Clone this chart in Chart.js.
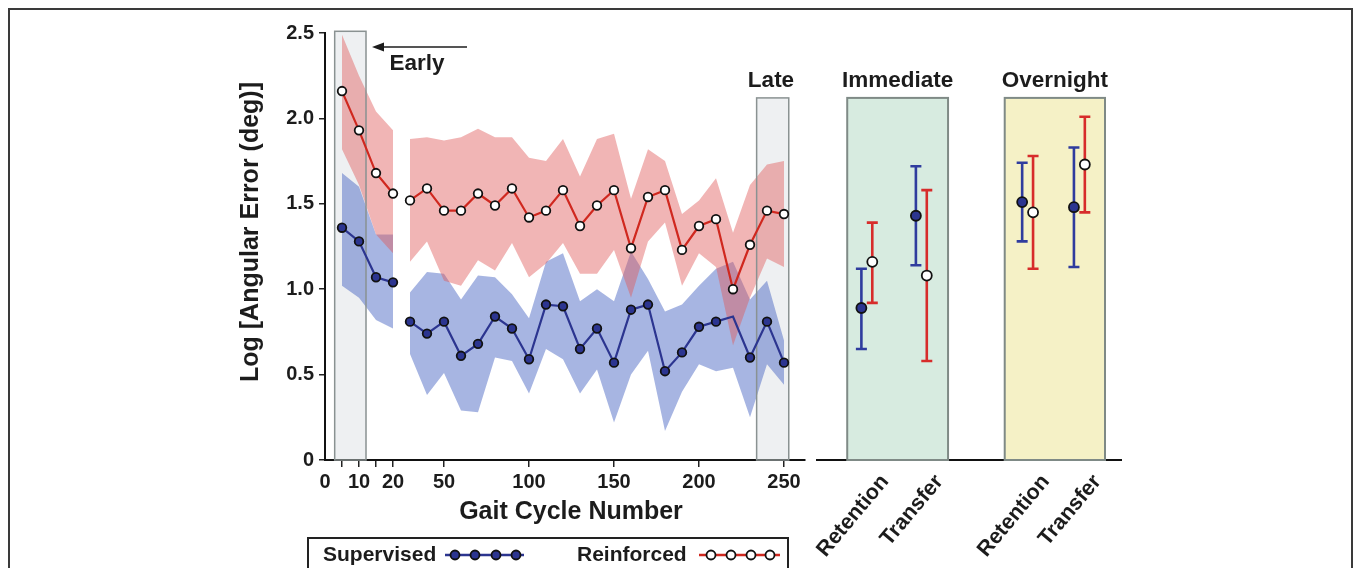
<!DOCTYPE html>
<html lang="en">
<head>
<meta charset="UTF-8">
<title>Gait error</title>
<script src="https://cdn.jsdelivr.net/npm/chart.js@4.4.0/dist/chart.umd.min.js"></script>
<style>
    html, body { margin: 0; padding: 0; background: #fff; }
    body { width: 1356px; height: 568px; overflow: hidden; position: relative; }
    .frame { position: absolute; left: 8px; top: 8px; width: 1345px; height: 620px; border: 2px solid #3a3a3a; box-sizing: border-box; }
    #left { position: absolute; left: 0; top: 0; }
    #right { position: absolute; left: 810px; top: 0; }
</style>
</head>
<body>
<div class="frame"></div>
<canvas id="left" width="812" height="568"></canvas>
<canvas id="right" width="544" height="568"></canvas>
<script>
// gait cycles (early block is stretched on the axis)
const earlyCycles = [5, 10, 15, 20];
const mainCycles = [30, 40, 50, 60, 70, 80, 90, 100, 110, 120, 130, 140, 150, 160, 170, 180, 190, 200, 210, 220, 230, 240, 250];

const supervisedEarly     = [1.36, 1.28, 1.07, 1.04];
const supervisedEarlyHigh = [1.68, 1.60, 1.32, 1.32];
const supervisedEarlyLow  = [1.02, 0.95, 0.82, 0.77];
const supervisedMain     = [0.81, 0.74, 0.81, 0.61, 0.68, 0.84, 0.77, 0.59, 0.91, 0.90, 0.65, 0.77, 0.57, 0.88, 0.91, 0.52, 0.63, 0.78, 0.81, 0.84, 0.60, 0.81, 0.57];
const supervisedMainHigh = [0.98, 1.10, 1.09, 0.94, 1.08, 1.07, 0.97, 0.83, 1.16, 1.21, 0.93, 1.00, 0.93, 1.22, 1.06, 0.87, 0.91, 1.02, 1.12, 1.16, 0.94, 1.05, 0.70];
const supervisedMainLow  = [0.62, 0.38, 0.51, 0.29, 0.28, 0.60, 0.58, 0.39, 0.65, 0.59, 0.39, 0.53, 0.22, 0.50, 0.64, 0.17, 0.40, 0.56, 0.52, 0.54, 0.25, 0.56, 0.44];
const supervisedNoMarker = [220];

const reinforcedEarly     = [2.16, 1.93, 1.68, 1.56];
const reinforcedEarlyHigh = [2.49, 2.25, 2.04, 1.93];
const reinforcedEarlyLow  = [1.82, 1.61, 1.32, 1.21];
const reinforcedMain     = [1.52, 1.59, 1.46, 1.46, 1.56, 1.49, 1.59, 1.42, 1.46, 1.58, 1.37, 1.49, 1.58, 1.24, 1.54, 1.58, 1.23, 1.37, 1.41, 1.00, 1.26, 1.46, 1.44];
const reinforcedMainHigh = [1.88, 1.89, 1.87, 1.89, 1.94, 1.89, 1.89, 1.77, 1.75, 1.88, 1.66, 1.88, 1.91, 1.53, 1.82, 1.75, 1.44, 1.52, 1.65, 1.33, 1.61, 1.73, 1.75];
const reinforcedMainLow  = [1.16, 1.28, 1.05, 1.02, 1.17, 1.11, 1.27, 1.07, 1.15, 1.27, 1.09, 1.09, 1.23, 0.95, 1.28, 1.39, 1.02, 1.21, 1.13, 0.67, 0.95, 1.18, 1.13];

const xTickCycles = [0, 5, 10, 15, 20, 50, 100, 150, 200, 250];
const xTickLabels = ['0', '', '10', '', '20', '50', '100', '150', '200', '250'];
const yTicks = [0, 0.5, 1, 1.5, 2, 2.5];
const yTickLabels = ['0', '0.5', '1.0', '1.5', '2.0', '2.5'];

// retention / transfer tests
const phases = ['Immediate', 'Overnight'];
const tests = ['Retention', 'Transfer', 'Retention', 'Transfer'];
const supervisedTestMean = [0.89, 1.43, 1.51, 1.48];
const supervisedTestLow  = [0.65, 1.14, 1.28, 1.13];
const supervisedTestHigh = [1.12, 1.72, 1.74, 1.83];
const reinforcedTestMean = [1.16, 1.08, 1.45, 1.73];
const reinforcedTestLow  = [0.92, 0.58, 1.12, 1.45];
const reinforcedTestHigh = [1.39, 1.58, 1.78, 2.01];

const FONT = '"Liberation Sans", Arial, Helvetica, sans-serif';
const INK = '#1c1c1c';
const BLUE = '#2c3590';
const RED = '#d0281f';
const BLUE_BAR = '#2f3c9e';
const RED_BAR = '#d72c2b';

// first 20 cycles get double width on the axis
const warp = g => g <= 20 ? 2 * g : g + 20;

function joined(early, main) {
    return earlyCycles.map((g, i) => ({x: warp(g), y: early[i]}))
        .concat([{x: warp(25), y: null}])
        .concat(mainCycles.map((g, i) => ({x: warp(g), y: main[i]})));
}

function text(ctx, str, x, y, size, align, rot) {
    ctx.save();
    ctx.translate(x, y);
    if (rot) ctx.rotate(rot);
    ctx.font = 'bold ' + size + 'px ' + FONT;
    ctx.fillStyle = INK;
    ctx.textAlign = align || 'center';
    ctx.textBaseline = 'middle';
    ctx.fillText(str, 0, 0);
    ctx.restore();
}

function marker(ctx, x, y, r, fill) {
    ctx.beginPath();
    ctx.arc(x, y, r, 0, Math.PI * 2);
    ctx.fillStyle = fill;
    ctx.fill();
    ctx.lineWidth = 1.8;
    ctx.strokeStyle = '#111';
    ctx.stroke();
}

const shadedBoxes = [
    {from: 2.85, to: 12.06, top: 2.51},
    {from: 233.9, to: 252.8, top: 2.12}
];

const leftDecor = {
    id: 'leftDecor',
    beforeDraw(chart) {
        const {ctx, scales: {x, y}} = chart;
        ctx.save();
        ctx.fillStyle = '#eef0f2';
        shadedBoxes.forEach(b => {
            const x0 = x.getPixelForValue(warp(b.from)), x1 = x.getPixelForValue(warp(b.to));
            const y0 = y.getPixelForValue(b.top), y1 = y.getPixelForValue(0);
            ctx.fillRect(x0, y0, x1 - x0, y1 - y0);
        });
        ctx.restore();
    },
    beforeDatasetsDraw(chart) {
        const {ctx, scales: {x, y}} = chart;
        ctx.save();
        ctx.strokeStyle = '#8a9292';
        ctx.lineWidth = 1.5;
        shadedBoxes.forEach(b => {
            const x0 = x.getPixelForValue(warp(b.from)), x1 = x.getPixelForValue(warp(b.to));
            const y0 = y.getPixelForValue(b.top), y1 = y.getPixelForValue(0);
            ctx.strokeRect(x0, y0, x1 - x0, y1 - y0);
        });
        ctx.restore();
    },
    afterDraw(chart) {
        const ctx = chart.ctx;
        text(ctx, 'Log [Angular Error (deg)]', 251, 232, 25, 'center', -Math.PI / 2);
        text(ctx, 'Gait Cycle Number', 571, 512, 25);
        text(ctx, 'Early', 417, 64, 22.5);
        text(ctx, 'Late', 771, 81, 22.5);

        // arrow pointing back to the early block
        ctx.save();
        ctx.strokeStyle = INK;
        ctx.fillStyle = INK;
        ctx.lineWidth = 1.3;
        ctx.beginPath();
        ctx.moveTo(467, 47);
        ctx.lineTo(378, 47);
        ctx.stroke();
        ctx.beginPath();
        ctx.moveTo(372, 47);
        ctx.lineTo(384, 42.5);
        ctx.lineTo(384, 51.5);
        ctx.closePath();
        ctx.fill();

        // legend
        ctx.lineWidth = 2;
        ctx.strokeStyle = '#222';
        ctx.strokeRect(308, 538, 480, 60);
        text(ctx, 'Supervised', 323, 555, 21, 'left');
        text(ctx, 'Reinforced', 577, 555, 21, 'left');
        ctx.lineWidth = 2.5;
        ctx.strokeStyle = BLUE;
        ctx.beginPath(); ctx.moveTo(445, 555); ctx.lineTo(524, 555); ctx.stroke();
        ctx.strokeStyle = RED;
        ctx.beginPath(); ctx.moveTo(699, 555); ctx.lineTo(780, 555); ctx.stroke();
        [455, 475, 496, 516].forEach(px => marker(ctx, px, 555, 4.5, BLUE));
        [711, 731, 751, 770].forEach(px => marker(ctx, px, 555, 4.5, '#fff'));
        ctx.restore();
    }
};

const tickFont = {family: FONT, size: 20, weight: 'bold'};

new Chart(document.getElementById('left'), {
    type: 'line',
    data: {
        datasets: [
            {
                label: 'Reinforced',
                data: joined(reinforcedEarly, reinforcedMain),
                borderColor: RED, borderWidth: 2.2,
                pointRadius: 4.3, pointBorderWidth: 1.8,
                pointBackgroundColor: '#fff', pointBorderColor: '#111',
                fill: false, order: 1
            },
            {
                label: 'Supervised',
                data: joined(supervisedEarly, supervisedMain),
                borderColor: BLUE, borderWidth: 2.2,
                pointRadius: c => (c.raw && supervisedNoMarker.includes(c.raw.x - 20)) ? 0 : 4.3,
                pointBorderWidth: 1.8,
                pointBackgroundColor: BLUE, pointBorderColor: '#111',
                fill: false, order: 2
            },
            {
                label: 'Reinforced high',
                data: joined(reinforcedEarlyHigh, reinforcedMainHigh),
                borderWidth: 0, pointRadius: 0,
                backgroundColor: 'rgba(225,90,90,0.45)',
                fill: '+1', order: 3
            },
            {
                label: 'Reinforced low',
                data: joined(reinforcedEarlyLow, reinforcedMainLow),
                borderWidth: 0, pointRadius: 0, fill: false, order: 3
            },
            {
                label: 'Supervised high',
                data: joined(supervisedEarlyHigh, supervisedMainHigh),
                borderWidth: 0, pointRadius: 0,
                backgroundColor: 'rgba(60,90,190,0.45)',
                fill: '+1', order: 4
            },
            {
                label: 'Supervised low',
                data: joined(supervisedEarlyLow, supervisedMainLow),
                borderWidth: 0, pointRadius: 0, fill: false, order: 4
            }
        ]
    },
    options: {
        responsive: false,
        animation: false,
        events: [],
        layout: {padding: {left: 0, right: 7.6, top: 33, bottom: 0}},
        plugins: {
            legend: {display: false},
            tooltip: {enabled: false},
            filler: {drawTime: 'beforeDatasetsDraw'}
        },
        scales: {
            x: {
                type: 'linear',
                min: 0,
                max: 282,
                afterBuildTicks: s => { s.ticks = xTickCycles.map(g => ({value: warp(g)})); },
                afterFit: s => { s.height = 108; },
                ticks: {
                    callback: (v, i) => xTickLabels[i],
                    autoSkip: false, maxRotation: 0,
                    font: tickFont, color: INK, padding: 3
                },
                grid: {
                    drawOnChartArea: false, drawTicks: true, tickLength: 7,
                    lineWidth: 1.5,
                    color: c => c.index === 0 ? 'rgba(0,0,0,0)' : '#222'
                },
                border: {display: true, color: '#111', width: 2}
            },
            y: {
                min: 0,
                max: 2.5,
                afterBuildTicks: s => { s.ticks = yTicks.map(v => ({value: v})); },
                afterFit: s => { s.width = 325; },
                ticks: {
                    callback: (v, i) => yTickLabels[i],
                    font: tickFont, color: INK, padding: 5
                },
                grid: {drawOnChartArea: false, drawTicks: true, tickLength: 6, lineWidth: 1.5, color: '#222'},
                border: {display: true, color: '#111', width: 2}
            }
        }
    },
    plugins: [leftDecor]
});

// right panel: tests
const groupPos = [1, 2, 3.95, 4.9];
const pairOffset = 0.1;
const phaseBoxes = [
    {from: 0.64, to: 2.49, fill: '#d7ebe0'},
    {from: 3.53, to: 5.37, fill: '#f5f1c6'}
];
const boxTop = 2.12;

const rightDecor = {
    id: 'rightDecor',
    beforeDatasetsDraw(chart) {
        const {ctx, scales: {x, y}} = chart;
        ctx.save();
        phaseBoxes.forEach((b, i) => {
            const x0 = x.getPixelForValue(b.from), x1 = x.getPixelForValue(b.to);
            const y0 = y.getPixelForValue(boxTop), y1 = y.getPixelForValue(0);
            ctx.fillStyle = b.fill;
            ctx.fillRect(x0, y0, x1 - x0, y1 - y0);
            ctx.strokeStyle = '#7f8a86';
            ctx.lineWidth = 2;
            ctx.strokeRect(x0, y0, x1 - x0, y1 - y0);
            text(ctx, phases[i], (x0 + x1) / 2, 81, 22.5);
        });
        // error bars
        const bars = [
            {off: -pairOffset, lo: supervisedTestLow, hi: supervisedTestHigh, color: BLUE_BAR},
            {off: pairOffset, lo: reinforcedTestLow, hi: reinforcedTestHigh, color: RED_BAR}
        ];
        ctx.lineWidth = 2.6;
        bars.forEach(b => {
            ctx.strokeStyle = b.color;
            groupPos.forEach((p, i) => {
                const px = x.getPixelForValue(p + b.off);
                const yl = y.getPixelForValue(b.lo[i]), yh = y.getPixelForValue(b.hi[i]);
                ctx.beginPath();
                ctx.moveTo(px, yl); ctx.lineTo(px, yh);
                ctx.moveTo(px - 5.5, yl); ctx.lineTo(px + 5.5, yl);
                ctx.moveTo(px - 5.5, yh); ctx.lineTo(px + 5.5, yh);
                ctx.stroke();
            });
        });
        ctx.restore();
    },
    afterDraw(chart) {
        const {ctx, scales: {x}} = chart;
        groupPos.forEach((p, i) => {
            text(ctx, tests[i], x.getPixelForValue(p) + 18, 478, 21.5, 'right', -50 * Math.PI / 180);
        });
    }
};

new Chart(document.getElementById('right'), {
    type: 'scatter',
    data: {
        datasets: [
            {
                label: 'Supervised',
                data: groupPos.map((p, i) => ({x: p - pairOffset, y: supervisedTestMean[i]})),
                pointRadius: 5, pointBorderWidth: 1.8,
                pointBackgroundColor: BLUE, pointBorderColor: '#111'
            },
            {
                label: 'Reinforced',
                data: groupPos.map((p, i) => ({x: p + pairOffset, y: reinforcedTestMean[i]})),
                pointRadius: 5, pointBorderWidth: 1.8,
                pointBackgroundColor: '#fff', pointBorderColor: '#111'
            }
        ]
    },
    options: {
        responsive: false,
        animation: false,
        events: [],
        layout: {padding: {left: 2, right: 233, top: 33, bottom: 0}},
        plugins: {legend: {display: false}, tooltip: {enabled: false}},
        scales: {
            x: {
                type: 'linear',
                min: 0.0818,
                max: 5.6636,
                afterFit: s => { s.height = 108; },
                ticks: {display: false},
                grid: {display: false},
                border: {display: true, color: '#111', width: 2}
            },
            y: {
                display: false,
                min: 0,
                max: 2.5
            }
        }
    },
    plugins: [rightDecor]
});
</script>
</body>
</html>
